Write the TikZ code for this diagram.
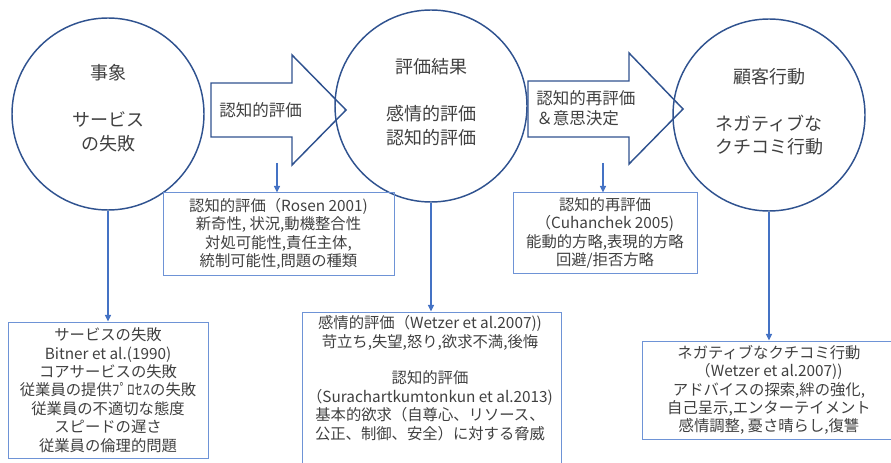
\documentclass[tikz,border=0pt]{standalone}
\usepackage{fontspec}
\setmainfont{Noto Sans CJK JP}
\usetikzlibrary{arrows.meta}
\definecolor{dkblue}{HTML}{2F528F}
\definecolor{ltblue}{HTML}{4472C4}
\definecolor{boxblue}{HTML}{6E93D6}
\definecolor{txtgray}{HTML}{404040}
\begin{document}
\begin{tikzpicture}[x=0.75pt,y=-0.75pt,
  circ/.style={circle, draw=dkblue, line width=1.1pt, minimum size=144pt, inner sep=0pt},
  barrow/.style={draw=dkblue, line width=1.1pt, line join=miter},
  bigtxt/.style={align=center, text=txtgray, inner sep=0pt, font=\fontsize{13.5}{17.6}\selectfont},
  arrtxt/.style={align=left, text=txtgray, inner sep=0pt, font=\fontsize{12.4}{15}\selectfont},
  refbox/.style={draw=boxblue, line width=0.75pt, rectangle, inner sep=0pt, align=center, text=txtgray, font=\fontsize{11.5}{13.8}\selectfont},
  boxtxt/.style={align=center, text=txtgray, inner sep=0pt, font=\fontsize{11.5}{13.8}\selectfont},
  conn/.style={draw=ltblue, line width=1.1pt, -{Triangle[length=5pt,width=4.5pt]}}
]
\useasboundingbox (0,0) rectangle (891,463);

% circles
\node[circ] (c1) at (108,114) {};
\node[circ] (c2) at (431,106) {};
\node[circ] (c3) at (769,115) {};
\node[bigtxt] (t1) at (108,108) {事象\\[17.6pt]サービス\\の失敗};
\node[bigtxt] (t2) at (431,102) {評価結果\\[17.6pt]感情的評価\\認知的評価};
\node[bigtxt] (t3) at (769,111.5) {顧客行動\\[17.6pt]ネガティブな\\クチコミ行動};

% block arrows
\draw[barrow] (211,83) -- (292,83) -- (292,55) -- (346,110) -- (292,165) -- (292,137) -- (211,137) -- cycle;
\draw[barrow] (528,81) -- (629,81) -- (629,53) -- (683,109) -- (629,164) -- (629,137) -- (528,137) -- cycle;
\node[arrtxt, anchor=west] (l1) at (219,110) {認知的評価};
\node[arrtxt, anchor=west] (l2) at (536,108) {認知的再評価\\＆意思決定};

% boxes
\node[refbox, minimum width=173.25pt, minimum height=61.5pt] (b1) at (278.5,234)
  {認知的評価（Rosen 2001)\\新奇性, 状況,動機整合性\\対処可能性,責任主体,\\統制可能性,問題の種類};
\node[refbox, minimum width=138pt, minimum height=60pt] (b2) at (605,233)
  {認知的再評価\\（Cuhanchek 2005)\\能動的方略,表現的方略\\回避/拒否方略};
\node[refbox, minimum width=150pt, minimum height=102pt] (b3) at (108,390)
  {サービスの失敗\\Bitner et al.(1990)\\コアサービスの失敗\\従業員の提供ﾌﾟﾛｾｽの失敗\\従業員の不適切な態度\\スピードの遅さ\\従業員の倫理的問題};
\node[refbox, minimum width=194.25pt, minimum height=122.25pt] (b4) at (431.5,393.5) {};
\node[boxtxt] (t4) at (430,378)
  {感情的評価（Wetzer et al.2007))\\苛立ち,失望,怒り,欲求不満,後悔\\[13.8pt]認知的評価\\（Surachartkumtonkun et al.2013)\\基本的欲求（自尊心、リソース、\\公正、制御、安全）に対する脅威};
\node[refbox, minimum width=190.5pt, minimum height=73.5pt] (b5) at (769,390)
  {ネガティブなクチコミ行動\\（Wetzer et al.2007))\\アドバイスの探索,絆の強化,\\自己呈示,エンターテイメント\\感情調整, 憂さ晴らし,復讐};

% connectors
\coordinate (a1s) at (277,163);
\coordinate (a2s) at (603,163);
\draw[conn] (a1s) -- (a1s |- b1.north);
\draw[conn] (a2s) -- (a2s |- b2.north);
\draw[conn] (c1.south) -- (b3.north);
\draw[conn] (c2.south) -- (c2.south |- b4.north);
\draw[conn] (c3.south) -- (b5.north);
\end{tikzpicture}
\end{document}
